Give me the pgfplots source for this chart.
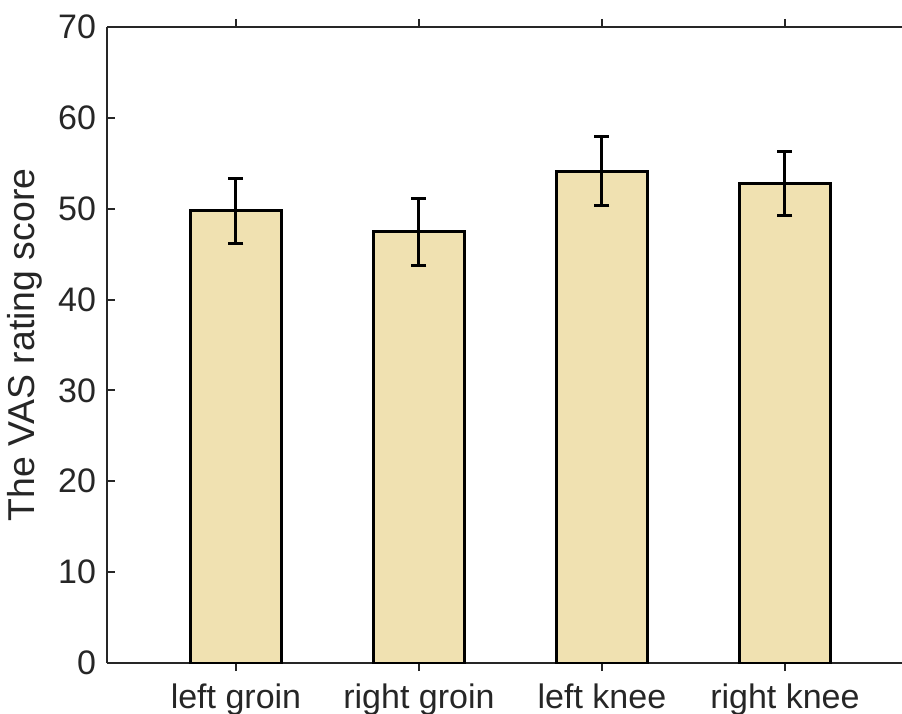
\documentclass[border=0pt]{standalone}
\usepackage{fontspec}
\setmainfont{Liberation Sans}
\usepackage{pgfplots}
\pgfplotsset{compat=1.18}
\definecolor{barfill}{HTML}{F0E1B1}
\definecolor{axgray}{HTML}{262626}
\begin{document}
\begin{tikzpicture}
\begin{axis}[
  scale only axis,
  width=397.5pt, height=318pt,
  xmin=0.295, xmax=4.64,
  ymin=0, ymax=70,
  ytick={0,10,...,70},
  xtick={1,2,3,4},
  xticklabels={left groin, right groin, left knee, right knee},
  axis x line*=box,
  axis y line*=left,
  axis line style={-, line width=1pt, color=axgray},
  tick style={line width=1pt, color=axgray},
  major tick length=4pt,
  tick align=inside,
  /pgf/number format/assume math mode=true,
  ticklabel style={font=\fontsize{17}{20}\selectfont, text=axgray},
  yticklabel style={xshift=-2pt},
  xticklabel style={yshift=-3pt},
  ylabel={The VAS rating score},
  ylabel style={font=\fontsize{18.7}{22}\selectfont, text=axgray, at={(axis description cs:-0.0906,0.5)}, anchor=base},
  ybar, bar width=45.5pt,
]
\addplot[ybar, fill=barfill, draw=black, line width=1.5pt,
  error bars/.cd, y dir=both, y explicit,
  error bar style={line width=1.5pt, black},
  error mark options={rotate=90, mark size=3.75pt, line width=1.5pt, black}]
coordinates {
  (1,49.8) += (0,3.5) -= (0,3.6)
  (2,47.5) += (0,3.6) -= (0,3.8)
  (3,54.15) += (0,3.85) -= (0,3.85)
  (4,52.8) += (0,3.5) -= (0,3.6)
};
\end{axis}
\pgfresetboundingbox
\path ([xshift=-53.5pt,yshift=-25pt]current axis.south west) rectangle ([yshift=13.5pt]current axis.north east);
\end{tikzpicture}
\end{document}
